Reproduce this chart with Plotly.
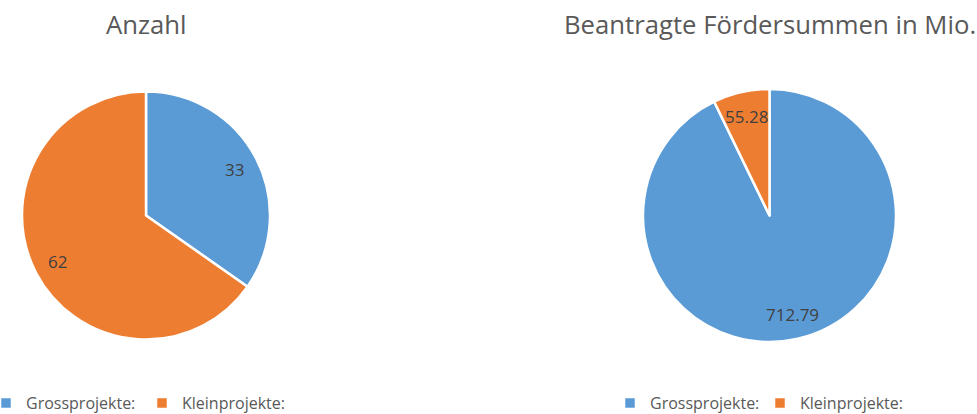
import math
import plotly.graph_objects as go

labels = ["Grossprojekte:", "Kleinprojekte:"]
anzahl = [33, 62]
foerder = [712.79, 55.28]
anzahl_text = ["33", "62"]
foerder_text = ["712.79", "55.28"]
titles = ["Anzahl", "Beantragte Fördersummen in Mio."]
colors = ["#5B9BD5", "#ED7D31"]

FONT = "Open Sans"
W, H = 977, 414
LABEL_R = 0.8

# pixel boxes of the two pies (left, right, top, bottom)
boxes = [(22, 270, 91, 340), (643, 896, 89, 342)]


def dom(b):
    return dict(x=[b[0] / W, b[1] / W], y=[1 - b[3] / H, 1 - b[2] / H])


def label_xy(vals):
    tot = sum(vals)
    xs, ys, cum = [], [], 0.0
    for v in vals:
        mid = (cum + v / 2) / tot * 2 * math.pi
        xs.append(LABEL_R * math.sin(mid))
        ys.append(LABEL_R * math.cos(mid))
        cum += v
    return xs, ys


fig = go.Figure()
annotations = []
# second pie gets a trailing space on its labels so it gets its own legend entries
for i, (vals, txt, leg, labs) in enumerate([
        (anzahl, anzahl_text, "legend", labels),
        (foerder, foerder_text, "legend2", [l + " " for l in labels])]):
    d = dom(boxes[i])
    fig.add_trace(go.Pie(
        labels=labs, values=vals, sort=False, direction="clockwise", rotation=0,
        marker=dict(colors=colors, line=dict(color="white", width=2.5)),
        textinfo="none", domain=d, legend=leg, hoverinfo="label+value",
    ))
    xs, ys = label_xy(vals)
    ax = "" if i == 0 else "2"
    for x, y, t in zip(xs, ys, txt):
        annotations.append(dict(
            text=t, x=x, y=y, xref="x" + ax, yref="y" + ax, showarrow=False,
            xanchor="center", yanchor="middle",
            font=dict(family=FONT, size=17, color="#404040")))

axis_common = dict(range=[-1, 1], visible=False, fixedrange=True)
d0, d1 = dom(boxes[0]), dom(boxes[1])
fig.update_layout(
    xaxis=dict(domain=d0["x"], anchor="y", **axis_common),
    yaxis=dict(domain=d0["y"], anchor="x", **axis_common),
    xaxis2=dict(domain=d1["x"], anchor="y2", **axis_common),
    yaxis2=dict(domain=d1["y"], anchor="x2", **axis_common),
)

for i, t in enumerate(titles):
    cx = (boxes[i][0] + boxes[i][1]) / 2
    annotations.append(dict(
        text=t, x=cx / W, y=1 - 24 / H, xref="paper", yref="paper",
        xanchor="center", yanchor="middle", showarrow=False,
        font=dict(family=FONT, size=25.7, color="#595959")))

fig.update_layout(
    width=W, height=H, margin=dict(l=0, r=0, t=0, b=0, autoexpand=False),
    paper_bgcolor="white", plot_bgcolor="rgba(0,0,0,0)",
    font=dict(family=FONT, color="#595959"),
    legend=dict(orientation="h", x=-14 / W, y=-6 / H, xanchor="left", yanchor="bottom",
                font=dict(family=FONT, size=16, color="#595959"),
                entrywidth=111, bgcolor="rgba(0,0,0,0)"),
    legend2=dict(orientation="h", x=(652 - 42) / W, y=-6 / H, xanchor="left", yanchor="bottom",
                 font=dict(family=FONT, size=16, color="#595959"),
                 entrywidth=105, bgcolor="rgba(0,0,0,0)"),
    annotations=annotations,
)

fig.write_html("out.html", config={"displayModeBar": False},
               post_script="document.body.style.margin='0';document.body.style.overflow='hidden';")
